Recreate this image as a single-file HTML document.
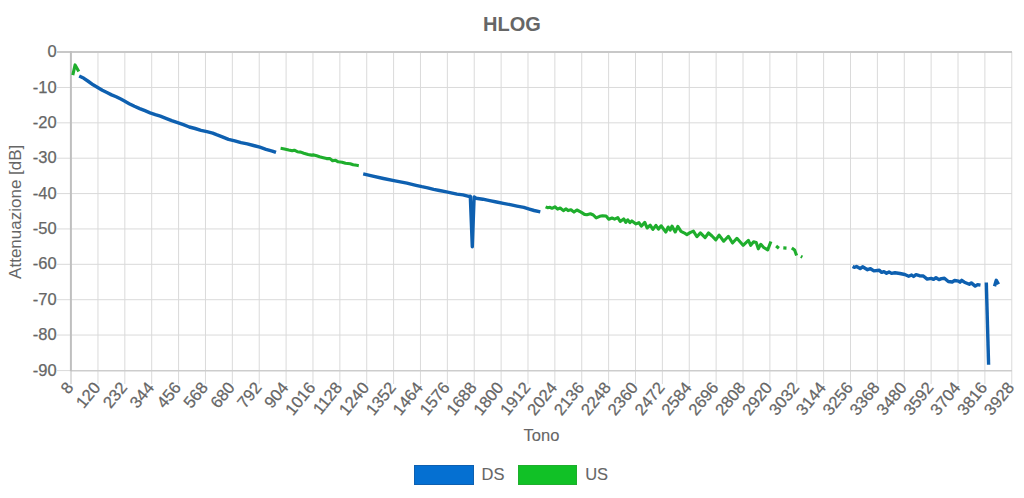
<!DOCTYPE html>
<html><head><meta charset="utf-8"><title>HLOG</title>
<style>html,body{margin:0;padding:0;background:#fff;}svg{display:block;font-family:"Liberation Sans",sans-serif;}text{stroke:#666;stroke-width:0.25px;}</style>
</head><body>
<svg width="1024" height="498" viewBox="0 0 1024 498">
<rect width="1024" height="498" fill="#fff"/>
<line x1="97.96" y1="52" x2="97.96" y2="384" stroke="#DADADA" stroke-width="1.0"/>
<line x1="124.83" y1="52" x2="124.83" y2="384" stroke="#DADADA" stroke-width="1.0"/>
<line x1="151.71" y1="52" x2="151.71" y2="384" stroke="#DADADA" stroke-width="1.0"/>
<line x1="178.59" y1="52" x2="178.59" y2="384" stroke="#DADADA" stroke-width="1.0"/>
<line x1="205.46" y1="52" x2="205.46" y2="384" stroke="#DADADA" stroke-width="1.0"/>
<line x1="232.34" y1="52" x2="232.34" y2="384" stroke="#DADADA" stroke-width="1.0"/>
<line x1="259.22" y1="52" x2="259.22" y2="384" stroke="#DADADA" stroke-width="1.0"/>
<line x1="286.10" y1="52" x2="286.10" y2="384" stroke="#DADADA" stroke-width="1.0"/>
<line x1="312.97" y1="52" x2="312.97" y2="384" stroke="#DADADA" stroke-width="1.0"/>
<line x1="339.85" y1="52" x2="339.85" y2="384" stroke="#DADADA" stroke-width="1.0"/>
<line x1="366.73" y1="52" x2="366.73" y2="384" stroke="#DADADA" stroke-width="1.0"/>
<line x1="393.60" y1="52" x2="393.60" y2="384" stroke="#DADADA" stroke-width="1.0"/>
<line x1="420.48" y1="52" x2="420.48" y2="384" stroke="#DADADA" stroke-width="1.0"/>
<line x1="447.36" y1="52" x2="447.36" y2="384" stroke="#DADADA" stroke-width="1.0"/>
<line x1="474.23" y1="52" x2="474.23" y2="384" stroke="#DADADA" stroke-width="1.0"/>
<line x1="501.11" y1="52" x2="501.11" y2="384" stroke="#DADADA" stroke-width="1.0"/>
<line x1="527.99" y1="52" x2="527.99" y2="384" stroke="#DADADA" stroke-width="1.0"/>
<line x1="554.87" y1="52" x2="554.87" y2="384" stroke="#DADADA" stroke-width="1.0"/>
<line x1="581.74" y1="52" x2="581.74" y2="384" stroke="#DADADA" stroke-width="1.0"/>
<line x1="608.62" y1="52" x2="608.62" y2="384" stroke="#DADADA" stroke-width="1.0"/>
<line x1="635.50" y1="52" x2="635.50" y2="384" stroke="#DADADA" stroke-width="1.0"/>
<line x1="662.37" y1="52" x2="662.37" y2="384" stroke="#DADADA" stroke-width="1.0"/>
<line x1="689.25" y1="52" x2="689.25" y2="384" stroke="#DADADA" stroke-width="1.0"/>
<line x1="716.13" y1="52" x2="716.13" y2="384" stroke="#DADADA" stroke-width="1.0"/>
<line x1="743.00" y1="52" x2="743.00" y2="384" stroke="#DADADA" stroke-width="1.0"/>
<line x1="769.88" y1="52" x2="769.88" y2="384" stroke="#DADADA" stroke-width="1.0"/>
<line x1="796.76" y1="52" x2="796.76" y2="384" stroke="#DADADA" stroke-width="1.0"/>
<line x1="823.64" y1="52" x2="823.64" y2="384" stroke="#DADADA" stroke-width="1.0"/>
<line x1="850.51" y1="52" x2="850.51" y2="384" stroke="#DADADA" stroke-width="1.0"/>
<line x1="877.39" y1="52" x2="877.39" y2="384" stroke="#DADADA" stroke-width="1.0"/>
<line x1="904.27" y1="52" x2="904.27" y2="384" stroke="#DADADA" stroke-width="1.0"/>
<line x1="931.14" y1="52" x2="931.14" y2="384" stroke="#DADADA" stroke-width="1.0"/>
<line x1="958.02" y1="52" x2="958.02" y2="384" stroke="#DADADA" stroke-width="1.0"/>
<line x1="984.90" y1="52" x2="984.90" y2="384" stroke="#DADADA" stroke-width="1.0"/>
<line x1="1011.77" y1="52" x2="1011.77" y2="384" stroke="#DADADA" stroke-width="1.0"/>
<line x1="57" y1="87.47" x2="1012" y2="87.47" stroke="#DADADA" stroke-width="1.0"/>
<line x1="57" y1="122.84" x2="1012" y2="122.84" stroke="#DADADA" stroke-width="1.0"/>
<line x1="57" y1="158.21" x2="1012" y2="158.21" stroke="#DADADA" stroke-width="1.0"/>
<line x1="57" y1="193.58" x2="1012" y2="193.58" stroke="#DADADA" stroke-width="1.0"/>
<line x1="57" y1="228.95" x2="1012" y2="228.95" stroke="#DADADA" stroke-width="1.0"/>
<line x1="57" y1="264.32" x2="1012" y2="264.32" stroke="#DADADA" stroke-width="1.0"/>
<line x1="57" y1="299.69" x2="1012" y2="299.69" stroke="#DADADA" stroke-width="1.0"/>
<line x1="57" y1="335.06" x2="1012" y2="335.06" stroke="#DADADA" stroke-width="1.0"/>
<line x1="57" y1="370.6" x2="71" y2="370.6" stroke="#DADADA" stroke-width="1.0"/>
<line x1="71" y1="370.8" x2="1012" y2="370.8" stroke="#CDCDCD" stroke-width="1.6"/>
<line x1="57" y1="51.9" x2="1012" y2="51.9" stroke="#C8C8C8" stroke-width="2"/>
<line x1="70.9" y1="51" x2="70.9" y2="371.5" stroke="#BFBFBF" stroke-width="2"/>
<line x1="71" y1="371.5" x2="71" y2="384" stroke="#CCCCCC" stroke-width="1.3"/>
<text x="56.7" y="57.20" text-anchor="end" font-size="16.5" fill="#666666">0</text>
<text x="56.7" y="92.57" text-anchor="end" font-size="16.5" fill="#666666">-10</text>
<text x="56.7" y="127.94" text-anchor="end" font-size="16.5" fill="#666666">-20</text>
<text x="56.7" y="163.31" text-anchor="end" font-size="16.5" fill="#666666">-30</text>
<text x="56.7" y="198.68" text-anchor="end" font-size="16.5" fill="#666666">-40</text>
<text x="56.7" y="234.05" text-anchor="end" font-size="16.5" fill="#666666">-50</text>
<text x="56.7" y="269.42" text-anchor="end" font-size="16.5" fill="#666666">-60</text>
<text x="56.7" y="304.79" text-anchor="end" font-size="16.5" fill="#666666">-70</text>
<text x="56.7" y="340.16" text-anchor="end" font-size="16.5" fill="#666666">-80</text>
<text x="56.7" y="375.53" text-anchor="end" font-size="16.5" fill="#666666">-90</text>
<text transform="translate(69.78,384.3) rotate(-51)" text-anchor="end" font-size="16.5" fill="#666666" dy="0.35em">8</text>
<text transform="translate(96.66,384.3) rotate(-51)" text-anchor="end" font-size="16.5" fill="#666666" dy="0.35em">120</text>
<text transform="translate(123.53,384.3) rotate(-51)" text-anchor="end" font-size="16.5" fill="#666666" dy="0.35em">232</text>
<text transform="translate(150.41,384.3) rotate(-51)" text-anchor="end" font-size="16.5" fill="#666666" dy="0.35em">344</text>
<text transform="translate(177.29,384.3) rotate(-51)" text-anchor="end" font-size="16.5" fill="#666666" dy="0.35em">456</text>
<text transform="translate(204.16,384.3) rotate(-51)" text-anchor="end" font-size="16.5" fill="#666666" dy="0.35em">568</text>
<text transform="translate(231.04,384.3) rotate(-51)" text-anchor="end" font-size="16.5" fill="#666666" dy="0.35em">680</text>
<text transform="translate(257.92,384.3) rotate(-51)" text-anchor="end" font-size="16.5" fill="#666666" dy="0.35em">792</text>
<text transform="translate(284.80,384.3) rotate(-51)" text-anchor="end" font-size="16.5" fill="#666666" dy="0.35em">904</text>
<text transform="translate(311.67,384.3) rotate(-51)" text-anchor="end" font-size="16.5" fill="#666666" dy="0.35em">1016</text>
<text transform="translate(338.55,384.3) rotate(-51)" text-anchor="end" font-size="16.5" fill="#666666" dy="0.35em">1128</text>
<text transform="translate(365.43,384.3) rotate(-51)" text-anchor="end" font-size="16.5" fill="#666666" dy="0.35em">1240</text>
<text transform="translate(392.30,384.3) rotate(-51)" text-anchor="end" font-size="16.5" fill="#666666" dy="0.35em">1352</text>
<text transform="translate(419.18,384.3) rotate(-51)" text-anchor="end" font-size="16.5" fill="#666666" dy="0.35em">1464</text>
<text transform="translate(446.06,384.3) rotate(-51)" text-anchor="end" font-size="16.5" fill="#666666" dy="0.35em">1576</text>
<text transform="translate(472.93,384.3) rotate(-51)" text-anchor="end" font-size="16.5" fill="#666666" dy="0.35em">1688</text>
<text transform="translate(499.81,384.3) rotate(-51)" text-anchor="end" font-size="16.5" fill="#666666" dy="0.35em">1800</text>
<text transform="translate(526.69,384.3) rotate(-51)" text-anchor="end" font-size="16.5" fill="#666666" dy="0.35em">1912</text>
<text transform="translate(553.57,384.3) rotate(-51)" text-anchor="end" font-size="16.5" fill="#666666" dy="0.35em">2024</text>
<text transform="translate(580.44,384.3) rotate(-51)" text-anchor="end" font-size="16.5" fill="#666666" dy="0.35em">2136</text>
<text transform="translate(607.32,384.3) rotate(-51)" text-anchor="end" font-size="16.5" fill="#666666" dy="0.35em">2248</text>
<text transform="translate(634.20,384.3) rotate(-51)" text-anchor="end" font-size="16.5" fill="#666666" dy="0.35em">2360</text>
<text transform="translate(661.07,384.3) rotate(-51)" text-anchor="end" font-size="16.5" fill="#666666" dy="0.35em">2472</text>
<text transform="translate(687.95,384.3) rotate(-51)" text-anchor="end" font-size="16.5" fill="#666666" dy="0.35em">2584</text>
<text transform="translate(714.83,384.3) rotate(-51)" text-anchor="end" font-size="16.5" fill="#666666" dy="0.35em">2696</text>
<text transform="translate(741.71,384.3) rotate(-51)" text-anchor="end" font-size="16.5" fill="#666666" dy="0.35em">2808</text>
<text transform="translate(768.58,384.3) rotate(-51)" text-anchor="end" font-size="16.5" fill="#666666" dy="0.35em">2920</text>
<text transform="translate(795.46,384.3) rotate(-51)" text-anchor="end" font-size="16.5" fill="#666666" dy="0.35em">3032</text>
<text transform="translate(822.34,384.3) rotate(-51)" text-anchor="end" font-size="16.5" fill="#666666" dy="0.35em">3144</text>
<text transform="translate(849.21,384.3) rotate(-51)" text-anchor="end" font-size="16.5" fill="#666666" dy="0.35em">3256</text>
<text transform="translate(876.09,384.3) rotate(-51)" text-anchor="end" font-size="16.5" fill="#666666" dy="0.35em">3368</text>
<text transform="translate(902.97,384.3) rotate(-51)" text-anchor="end" font-size="16.5" fill="#666666" dy="0.35em">3480</text>
<text transform="translate(929.84,384.3) rotate(-51)" text-anchor="end" font-size="16.5" fill="#666666" dy="0.35em">3592</text>
<text transform="translate(956.72,384.3) rotate(-51)" text-anchor="end" font-size="16.5" fill="#666666" dy="0.35em">3704</text>
<text transform="translate(983.60,384.3) rotate(-51)" text-anchor="end" font-size="16.5" fill="#666666" dy="0.35em">3816</text>
<text transform="translate(1010.48,384.3) rotate(-51)" text-anchor="end" font-size="16.5" fill="#666666" dy="0.35em">3928</text>
<text x="512" y="31" text-anchor="middle" font-size="20" font-weight="bold" fill="#666666" style="stroke-width:0">HLOG</text>
<text x="541.5" y="441.2" text-anchor="middle" font-size="16.5" fill="#666666" style="stroke-width:0.1">Tono</text>
<text transform="translate(20.6,211.8) rotate(-90)" text-anchor="middle" font-size="17" fill="#666666" style="stroke-width:0">Attenuazione [dB]</text>
<rect x="414.5" y="465.5" width="59" height="19" fill="#0570D2" stroke="#0E60B0" stroke-width="1"/>
<text x="481.6" y="480.4" font-size="16.5" fill="#666666" style="stroke-width:0.1">DS</text>
<rect x="518.5" y="465.5" width="58" height="19" fill="#11C126" stroke="#1FAE2D" stroke-width="1"/>
<text x="585.2" y="480.4" font-size="16.5" fill="#666666" style="stroke-width:0.1">US</text>
<path d="M72.80,75.10 L75.10,64.90 L78.80,71.40" fill="none" stroke="#1FAE2D" stroke-width="3.1" stroke-linejoin="round" stroke-linecap="butt"/>
<path d="M79.20,76.00 L83.90,78.30 L88.50,81.50 L93.10,84.80 L97.70,87.50 L102.30,90.30 L106.90,92.60 L111.60,94.90 L116.20,96.80 L120.80,99.10 L124.00,100.80 L129.20,103.70 L134.40,106.30 L139.70,108.60 L144.90,110.70 L150.10,112.80 L155.30,114.60 L160.30,116.20 L165.90,118.30 L171.70,120.60 L177.60,122.60 L183.40,124.70 L189.30,127.00 L195.10,128.50 L201.00,130.30 L206.90,131.70 L212.70,133.20 L216.50,134.70 L222.30,136.80 L228.50,139.30 L234.80,140.80 L241.00,142.70 L247.30,143.90 L253.50,145.50 L259.80,147.10 L266.00,149.30 L272.30,151.10 L276.00,152.40" fill="none" stroke="#0E60B0" stroke-width="3.4" stroke-linejoin="round" stroke-linecap="butt"/>
<path d="M280.60,148.20 L284.40,148.90 L288.70,150.00 L292.20,150.80 L294.30,150.20 L297.30,151.70 L300.80,152.10 L303.80,153.20 L308.10,154.50 L311.50,155.10 L313.70,154.90 L316.70,155.80 L319.50,156.80 L322.30,157.50 L326.60,158.60 L330.00,158.60 L332.60,160.70 L335.60,160.30 L338.20,161.80 L342.10,162.20 L345.50,163.30 L350.20,163.80 L353.20,164.80 L356.70,165.30 L358.80,165.70" fill="none" stroke="#1FAE2D" stroke-width="3.1" stroke-linejoin="round" stroke-linecap="butt"/>
<path d="M363.20,173.90 L371.70,175.90 L383.40,178.50 L395.10,180.90 L406.90,183.20 L416.00,185.30 L421.90,186.70 L427.70,187.90 L433.60,189.40 L439.40,190.50 L445.30,191.70 L451.10,192.90 L457.00,194.10 L462.90,194.90 L468.70,196.40 L470.30,196.20 L472.30,246.80 L474.10,196.90 L476.00,198.20 L482.80,199.20 L489.70,200.60 L496.50,202.00 L503.30,203.30 L510.20,204.70 L517.00,206.10 L523.80,207.40 L529.30,209.10 L534.10,210.50 L540.30,211.90" fill="none" stroke="#0E60B0" stroke-width="3.4" stroke-linejoin="round" stroke-linecap="butt"/>
<path d="M545.60,206.80 L547.60,207.70 L550.00,207.30 L552.00,208.30 L554.90,206.80 L557.60,209.10 L560.20,208.00 L563.40,210.60 L566.10,208.80 L568.10,210.60 L571.00,209.70 L574.00,212.10 L576.90,210.00 L581.00,212.10 L584.50,214.40 L586.90,214.70 L590.40,213.80 L593.30,215.00 L596.20,217.90 L599.70,216.30 L602.60,215.70 L606.10,216.00 L608.80,219.20 L612.00,218.00 L614.60,219.20 L617.80,217.70 L620.20,221.50 L623.70,218.90 L625.80,222.40 L627.80,219.80 L629.90,222.70 L631.90,220.90 L636.00,223.90 L638.90,222.70 L641.30,226.20 L644.80,222.40 L647.10,228.00 L650.20,225.20 L652.90,229.40 L655.90,225.30 L658.50,229.10 L661.10,225.80 L665.80,232.00 L668.20,227.00 L670.20,230.20 L672.00,226.10 L675.20,232.00 L677.80,226.40 L681.00,231.40 L684.00,232.80 L686.90,234.60 L690.00,232.60 L693.40,231.10 L696.90,236.70 L700.40,232.90 L705.10,237.60 L708.50,233.00 L712.00,236.00 L715.80,239.80 L719.10,235.10 L723.70,241.20 L728.40,236.30 L732.50,243.00 L736.90,238.30 L743.10,245.30 L748.40,240.40 L750.70,245.30 L753.60,241.80 L756.20,242.50 L758.30,248.80 L760.80,244.30 L763.70,247.50 L767.70,249.90 L770.90,241.50" fill="none" stroke="#1FAE2D" stroke-width="3.1" stroke-linejoin="round" stroke-linecap="butt"/>
<path d="M776.10,246.00 L778.90,248.30" fill="none" stroke="#1FAE2D" stroke-width="3.1" stroke-linejoin="round" stroke-linecap="butt"/>
<path d="M783.30,247.90 L786.50,248.10" fill="none" stroke="#1FAE2D" stroke-width="3.1" stroke-linejoin="round" stroke-linecap="butt"/>
<path d="M791.80,247.90 L794.60,249.90 L796.60,255.50" fill="none" stroke="#1FAE2D" stroke-width="3.1" stroke-linejoin="round" stroke-linecap="butt"/>
<path d="M800.80,256.40 L802.40,257.20" fill="none" stroke="#1FAE2D" stroke-width="3.1" stroke-linejoin="round" stroke-linecap="butt"/>
<path d="M852.60,266.50 L854.30,267.30 L856.50,266.50 L860.20,268.50 L862.60,266.80 L867.50,269.70 L870.50,268.70 L873.90,270.90 L879.30,270.20 L881.70,272.40 L884.00,271.60 L886.50,273.20 L889.00,271.90 L891.50,273.40 L895.00,272.80 L899.90,273.50 L904.80,274.50 L908.70,276.20 L911.60,275.00 L913.60,276.50 L916.00,274.70 L919.40,275.70 L923.30,276.00 L927.20,279.10 L931.10,278.40 L933.60,279.40 L936.00,277.70 L939.00,279.60 L941.40,278.60 L944.40,278.30 L948.30,281.50 L952.20,282.00 L954.60,280.50 L958.60,281.20 L960.00,282.20 L961.70,280.30 L964.40,282.20 L969.30,284.20 L971.30,282.90 L975.20,286.10 L977.60,284.60 L980.50,285.10" fill="none" stroke="#0E60B0" stroke-width="3.4" stroke-linejoin="round" stroke-linecap="butt"/>
<path d="M986.30,282.50 L988.60,364.70" fill="none" stroke="#0E60B0" stroke-width="3.4" stroke-linejoin="round" stroke-linecap="butt"/>
<path d="M994.50,286.30 L996.30,280.30 L998.50,284.30" fill="none" stroke="#0E60B0" stroke-width="3.4" stroke-linejoin="round" stroke-linecap="butt"/>
</svg>
</body></html>
